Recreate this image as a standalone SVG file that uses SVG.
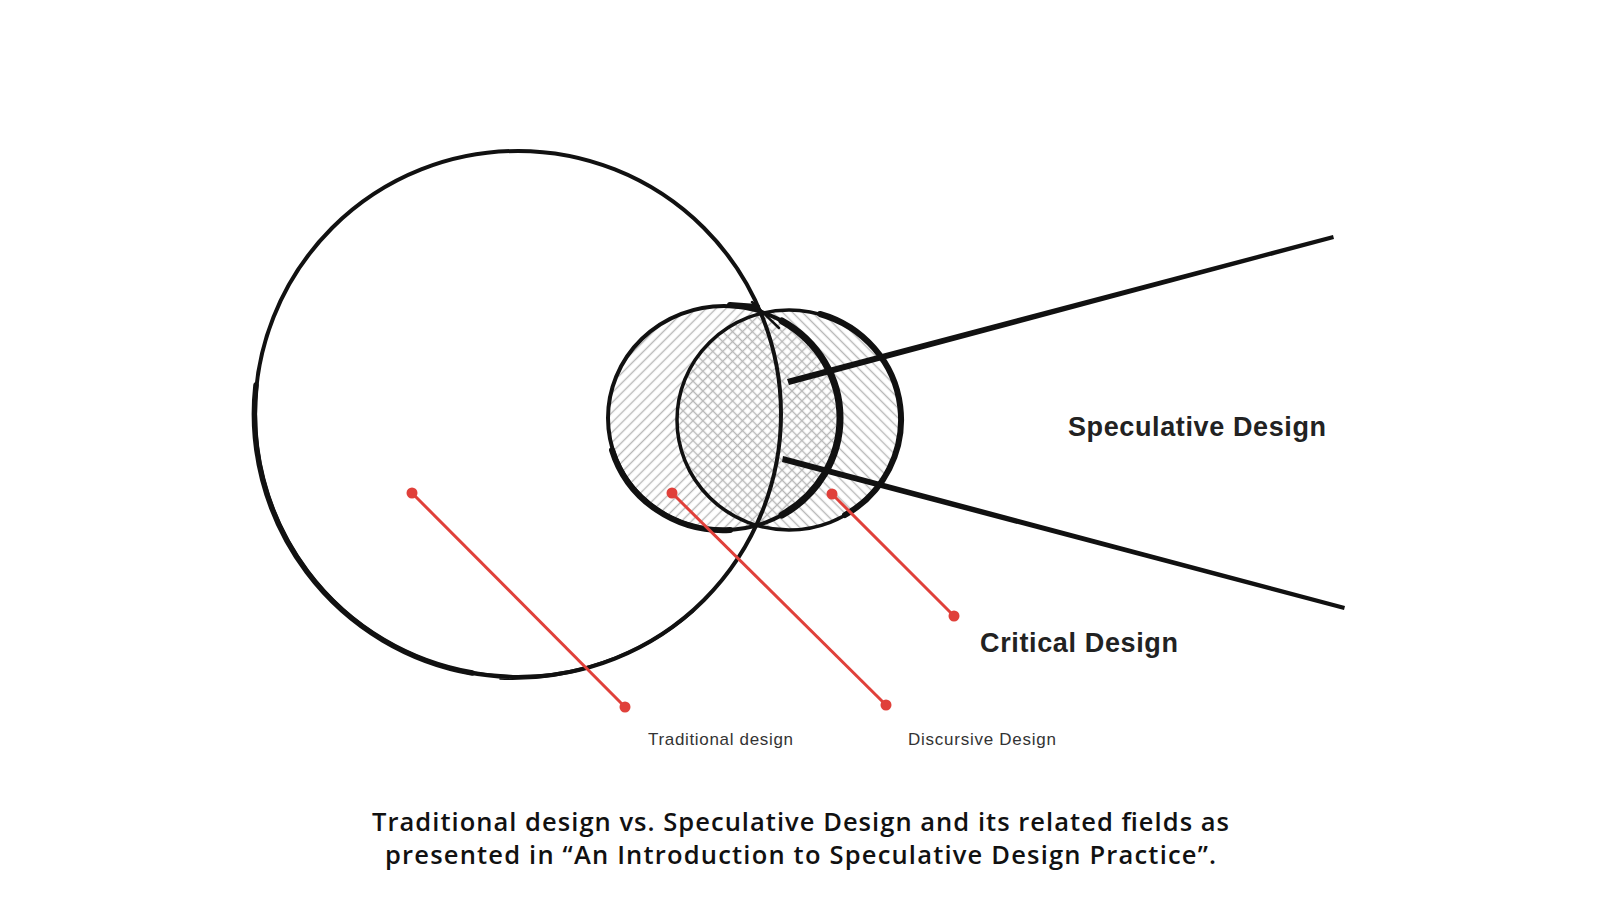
<svg xmlns="http://www.w3.org/2000/svg" width="1600" height="900" viewBox="0 0 1600 900">
  <defs>
    <pattern id="hatchA" patternUnits="userSpaceOnUse" width="7" height="7" patternTransform="rotate(45)">
      <line x1="3.5" y1="0" x2="3.5" y2="7" stroke="#b8b8b8" stroke-width="1.4"/>
    </pattern>
    <pattern id="hatchB" patternUnits="userSpaceOnUse" width="7" height="7" patternTransform="rotate(-45)">
      <line x1="3.5" y1="0" x2="3.5" y2="7" stroke="#b8b8b8" stroke-width="1.4"/>
    </pattern>
  </defs>
  <style>
    .ink { fill: none; stroke: #111; stroke-linecap: round; }
    .red { stroke: #e0403a; stroke-width: 3; fill: none; }
    .dot { fill: #e0403a; }
    .big { font-family: "Liberation Sans", Arial, sans-serif; font-weight: bold; font-size: 27px; fill: #222; }
    .small { font-family: "Liberation Sans", Arial, sans-serif; font-size: 17px; fill: #333; }
    .cap { font-family: "Open Sans", "Noto Sans", sans-serif; font-weight: 600; font-size: 25.5px; fill: #111; }
  </style>
  <rect width="1600" height="900" fill="#ffffff"/>

  <g id="discursive-circle">
    <ellipse cx="724" cy="418" rx="116" ry="112" fill="url(#hatchA)"/>
  </g>
  <g id="critical-circle">
    <ellipse cx="789" cy="420" rx="112" ry="110" fill="url(#hatchB)"/>
  </g>

  <g id="traditional-circle">
    <circle cx="518" cy="414" r="263" class="ink" stroke-width="4"/>
    <path d="M 256 385 A 263 263 0 0 0 472.3 673" class="ink" stroke-width="5.5"/>
    <path d="M 470 672 A 265 263 0 0 0 693 611" class="ink" stroke-width="3"/>
    <path d="M 500 679 A 266 265 0 0 0 680 620" class="ink" stroke-width="1.6"/>
    <line x1="752" y1="302" x2="779" y2="328" class="ink" stroke-width="2.5"/>
  </g>

  <g id="discursive-outline">
    <ellipse cx="724" cy="418" rx="116" ry="112" class="ink" stroke-width="4"/>
    <path d="M 782 321 A 116 112 0 0 1 782 515" class="ink" stroke-width="7"/>
    <path d="M 612 450 A 116 112 0 0 0 730 530" class="ink" stroke-width="6"/>
    <line x1="730" y1="305" x2="757" y2="307" class="ink" stroke-width="6"/>
  </g>
  <g id="critical-outline">
    <ellipse cx="789" cy="420" rx="112" ry="110" class="ink" stroke-width="3.5"/>
    <path d="M 820 314 A 112 110 0 0 1 845 515" class="ink" stroke-width="6"/>
  </g>

  <g id="connectors">
    <polygon points="787,379 1333,235 1334,239 789,385" fill="#111"/>
    <polygon points="783,456 1345,606 1344,610 782,462" fill="#111"/>
    <line x1="412" y1="493" x2="625" y2="707" class="red"/>
    <circle cx="412" cy="493" r="5.5" class="dot"/>
    <circle cx="625" cy="707" r="5.5" class="dot"/>
    <line x1="672" y1="493" x2="886" y2="705" class="red"/>
    <circle cx="672" cy="493" r="5.5" class="dot"/>
    <circle cx="886" cy="705" r="5.5" class="dot"/>
    <line x1="832" y1="494" x2="954" y2="616" class="red"/>
    <circle cx="832" cy="494" r="5.5" class="dot"/>
    <circle cx="954" cy="616" r="5.5" class="dot"/>
  </g>

  <g id="label-speculative">
    <text x="1068" y="436" class="big" textLength="258">Speculative Design</text>
  </g>
  <g id="label-critical">
    <text x="980" y="652" class="big" textLength="198">Critical Design</text>
  </g>
  <g id="label-traditional">
    <text x="648" y="745" class="small" textLength="145">Traditional design</text>
  </g>
  <g id="label-discursive">
    <text x="908" y="745" class="small" textLength="148">Discursive Design</text>
  </g>
  <g id="caption">
    <text x="372" y="831" class="cap" textLength="857">Traditional design vs. Speculative Design and its related fields as</text>
    <text x="385" y="864" class="cap" textLength="831">presented in “An Introduction to Speculative Design Practice”.</text>
  </g>
</svg>
